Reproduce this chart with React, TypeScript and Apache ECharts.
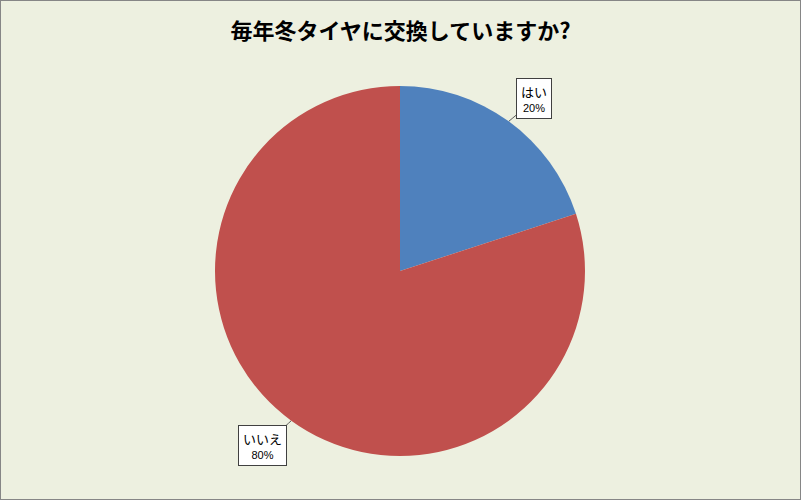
import React, { useEffect, useRef } from "react";
import * as echarts from "echarts";

const titleText = "毎年冬タイヤに交換していますか?";
const answers = ["はい", "いいえ"];
const shares = [20, 80];
const sliceColors = ["#4F81BD", "#C0504D"];

// where each label box sits (top-left corner)
const labelSpots = [
  { x: 516, y: 78 },
  { x: 238, y: 425 },
];

// clip a segment from p towards the box centre at the box edge
function edgePoint(p: number[], r: { x: number; y: number; width: number; height: number }) {
  const cx = r.x + r.width / 2;
  const cy = r.y + r.height / 2;
  const dx = cx - p[0];
  const dy = cy - p[1];
  let t = 1;
  if (dx !== 0) {
    const edgeX = dx > 0 ? r.x : r.x + r.width;
    const tx = (edgeX - p[0]) / dx;
    const yy = p[1] + dy * tx;
    if (tx >= 0 && tx <= 1 && yy >= r.y && yy <= r.y + r.height) t = Math.min(t, tx);
  }
  if (dy !== 0) {
    const edgeY = dy > 0 ? r.y : r.y + r.height;
    const ty = (edgeY - p[1]) / dy;
    const xx = p[0] + dx * ty;
    if (ty >= 0 && ty <= 1 && xx >= r.x && xx <= r.x + r.width) t = Math.min(t, ty);
  }
  return [p[0] + dx * t, p[1] + dy * t];
}

export default function App() {
  const chartRef = useRef<HTMLDivElement>(null);

  useEffect(() => {
    if (!chartRef.current) return;
    const chart = echarts.init(chartRef.current, undefined, { renderer: "svg" });

    chart.setOption({
      animation: false,
      backgroundColor: "#EDF0E0",
      title: {
        text: titleText,
        left: "center",
        top: 12,
        textStyle: {
          fontFamily: "Noto Sans CJK JP",
          fontWeight: "bold",
          fontSize: 22,
          color: "#000",
        },
      },
      series: [
        {
          type: "pie",
          center: [399, 270],
          radius: 185,
          startAngle: 90,
          clockwise: true,
          data: answers.map((name, i) => ({
            name,
            value: shares[i],
            itemStyle: { color: sliceColors[i] },
          })),
          label: {
            show: true,
            position: "outside",
            formatter: "{n|{b}}\n{p|{d}%}",
            backgroundColor: "#fff",
            borderColor: "#404040",
            borderWidth: 1,
            padding: [3, 4, 3, 4],
            align: "center",
            rich: {
              n: {
                fontFamily: "Noto Sans CJK JP",
                fontSize: 13,
                color: "#000",
                lineHeight: 18,
                align: "center",
              },
              p: {
                fontFamily: "Liberation Sans",
                fontSize: 11,
                color: "#000",
                lineHeight: 15,
                align: "center",
              },
            },
          },
          labelLine: {
            show: true,
            length: 6,
            length2: 6,
            lineStyle: { color: "#595959", width: 1 },
          },
          labelLayout: (params: any) => {
            const spot = labelSpots[params.dataIndex];
            const rect = {
              x: spot.x,
              y: spot.y,
              width: params.labelRect.width,
              height: params.labelRect.height,
            };
            const start = params.labelLinePoints
              ? params.labelLinePoints[0]
              : [rect.x, rect.y];
            const end = edgePoint(start, rect);
            const mid = [(start[0] + end[0]) / 2, (start[1] + end[1]) / 2];
            return {
              x: spot.x,
              y: spot.y,
              align: "left",
              verticalAlign: "top",
              labelLinePoints: [start, mid, end],
            };
          },
        },
      ],
    });

    return () => {
      chart.dispose();
    };
  }, []);

  return (
    <div
      style={{
        position: "fixed",
        left: 0,
        top: 0,
        width: 801,
        height: 500,
        boxSizing: "border-box",
        border: "1px solid #868686",
      }}
    >
      <div ref={chartRef} style={{ width: 799, height: 498 }} />
    </div>
  );
}
